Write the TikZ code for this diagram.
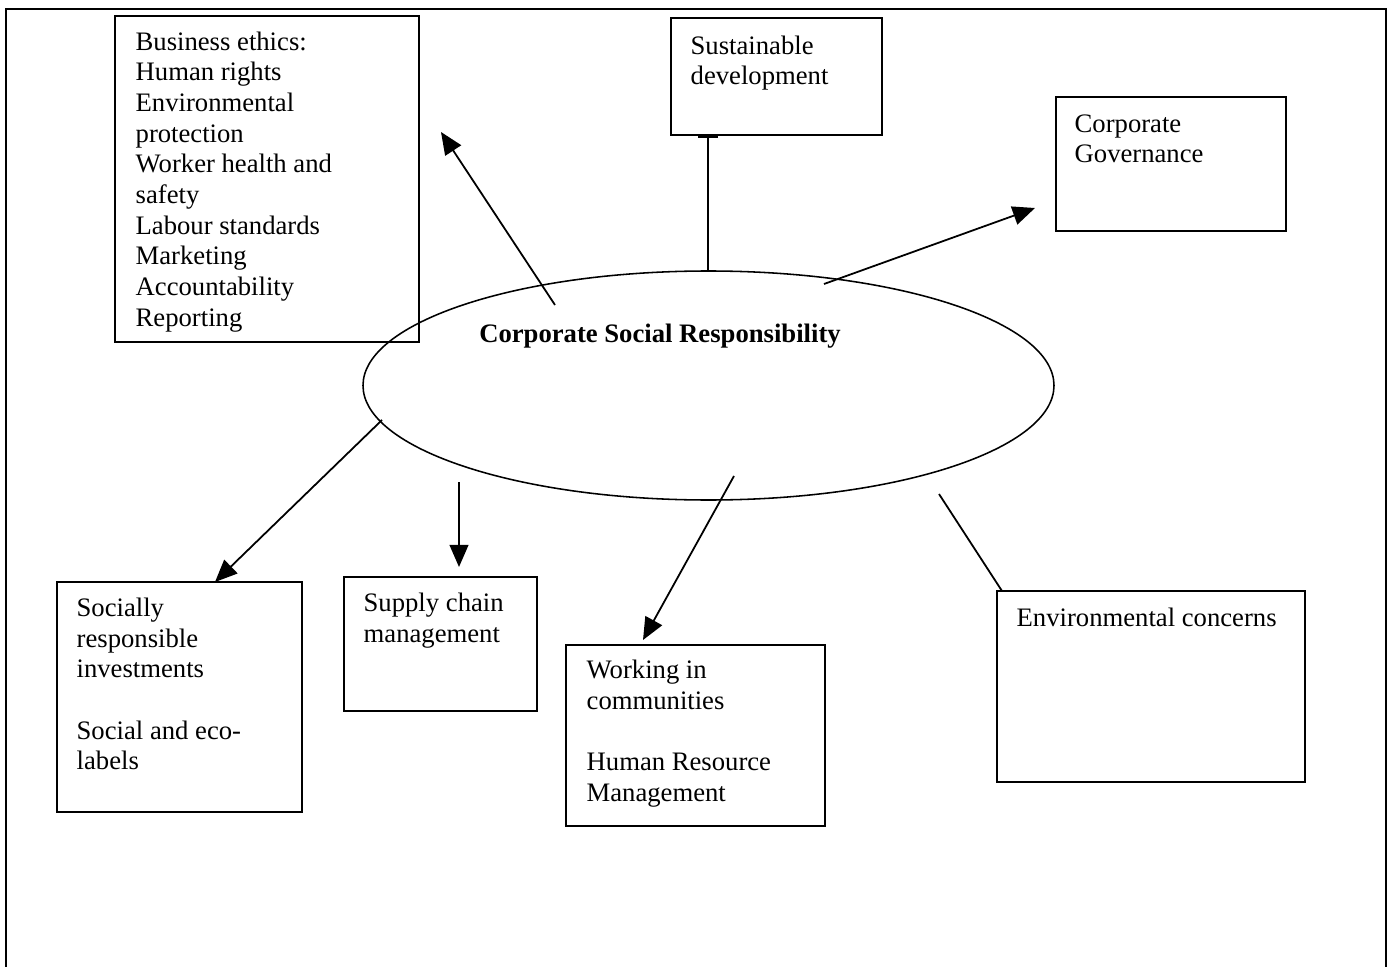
\documentclass[tikz,border=0pt]{standalone}
\usepackage{fontspec}
\setmainfont{Liberation Serif}
\usetikzlibrary{fit,positioning,arrows.meta,shapes.geometric,calc}
\begin{document}
\begin{tikzpicture}[x=0.45pt,y=-0.45pt,
    box/.style={draw,line width=0.7pt,inner sep=0pt},
    txt/.style={anchor=north west,inner sep=0pt,align=left,font=\fontsize{12pt}{13.8pt}\selectfont},
    arr/.style={line width=0.8pt,-{Triangle[length=10pt,width=8.5pt]}},
    lin/.style={line width=0.8pt}]
    \useasboundingbox (0,0) rectangle (1391,967);
    \draw[line width=1.2pt] (6,967) -- (6,9) -- (1386,9) -- (1386,967);
    \node[box,fit={(115,16) (419,342)}] (be) {};
    \node[box,fit={(671,18) (882,135)}] (sd) {};
    \node[box,fit={(1056,97) (1286,231)}] (cg) {};
    \node[box,fit={(57,582) (302,812)}] (sri) {};
    \node[box,fit={(344,577) (537,711)}] (sc) {};
    \node[box,fit={(566,645) (825,826)}] (wc) {};
    \node[box,fit={(997,591) (1305,782)}] (ec) {};
    \node[box,ellipse,minimum width=310.95pt,minimum height=103.05pt] (csr) at (708.5,385.5) {};
    \node[txt] (be-t) at ($(be.north west)+(21,13)$) {\strut Business ethics:\\ Human rights\\ Environmental\\ protection\\ Worker health and\\ safety\\ Labour standards\\ Marketing\\ Accountability\\ Reporting};
    \node[txt] (sd-t) at ($(sd.north west)+(20,15)$) {\strut Sustainable\\ development};
    \node[txt] (cg-t) at ($(cg.north west)+(19,14)$) {\strut Corporate\\ Governance};
    \node[txt] (sri-t) at ($(sri.north west)+(20,13.5)$) {\strut Socially\\ responsible\\ investments\\ ~\\ Social and eco-\\ labels};
    \node[txt] (sc-t) at ($(sc.north west)+(20,13.5)$) {\strut Supply chain\\ management};
    \node[txt] (wc-t) at ($(wc.north west)+(21,12.5)$) {\strut Working in\\ communities\\ ~\\ Human Resource\\ Management};
    \node[txt] (ec-t) at ($(ec.north west)+(20,14.5)$) {\strut Environmental concerns};
    \node[anchor=base,inner sep=0pt,font=\bfseries\fontsize{12pt}{13.8pt}\selectfont] (csr-t) at (660,342) {Corporate Social Responsibility};
    \coordinate (be-a) at (555,305);
    \coordinate (be-b) at (441,132);
    \coordinate (sd-a) at (708,270);
    \coordinate (cg-a) at (824,284);
    \coordinate (cg-b) at (1035,208);
    \coordinate (sri-a) at (382,420);
    \coordinate (sri-b) at (215,582);
    \coordinate (sc-a) at (459,482);
    \coordinate (sc-b) at (459,567);
    \coordinate (wc-a) at (734,476);
    \coordinate (wc-b) at (643,640);
    \coordinate (ec-a) at (939,494);
    \coordinate (ec-b) at (1002,591);
    \draw[arr] (be-a) -- (be-b);
    \draw[lin,-{Bar[width=9pt]}] (sd-a) -- (sd-a |- sd.south);
    \draw[arr] (cg-a) -- (cg-b);
    \draw[arr] (sri-a) -- (sri-b);
    \draw[arr] (sc-a) -- (sc-b);
    \draw[arr] (wc-a) -- (wc-b);
    \draw[lin] (ec-a) -- (ec-b);
\end{tikzpicture}
\end{document}
